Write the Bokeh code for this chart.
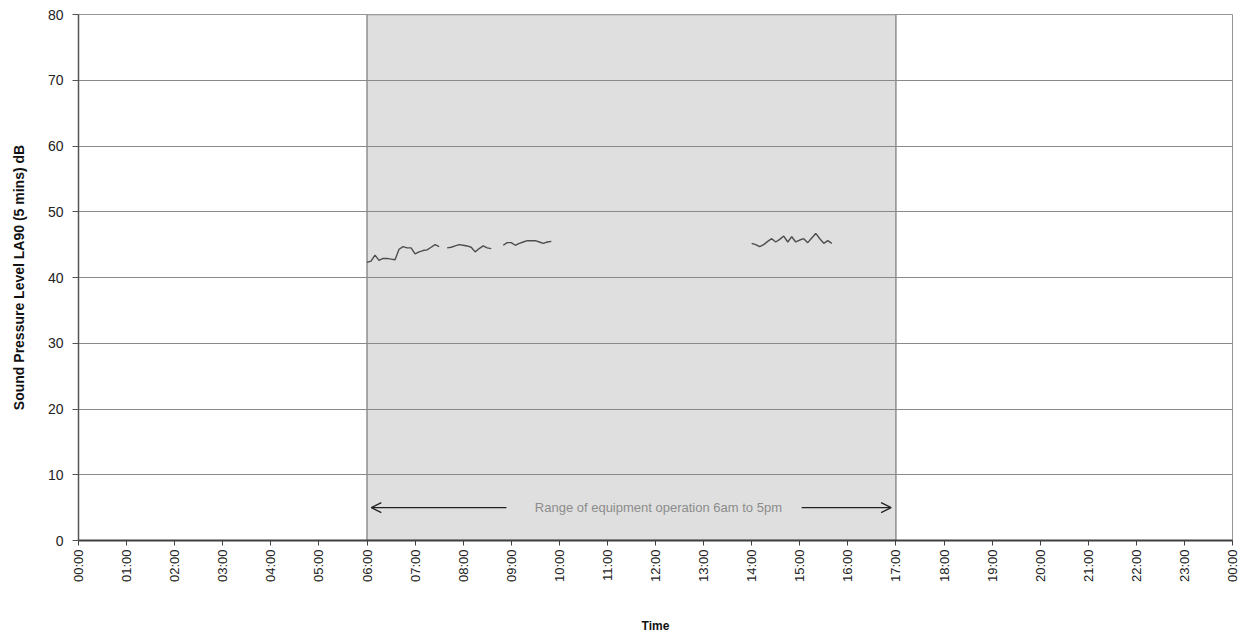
import numpy as np
from bokeh.plotting import figure
from bokeh.models import Range1d, FixedTicker, Arrow, OpenHead, Label
from bokeh.embed import file_html
from bokeh.resources import INLINE

# ---------------- data ----------------
hours = list(range(0, 25))
hour_labels = ["%02d:00" % (h % 24) for h in hours]
y_ticks = [0, 10, 20, 30, 40, 50, 60, 70, 80]

op_start = 6.0     # 6am
op_end = 17.0      # 5pm
op_text = "Range of equipment operation 6am to 5pm"
y_title = "Sound Pressure Level LA90 (5 mins) dB"
x_title = "Time"

# 5-minute LA90 readings, each segment given by start time (hours) and values
seg1_start = 6 + 0 / 60
seg1_vals = [42.3, 42.5, 43.4, 42.6, 42.9, 42.9, 42.8, 42.7, 44.3, 44.7,
             44.5, 44.5, 43.6, 43.9, 44.1, 44.2, 44.6, 45.0, 44.7]
seg2_start = 7 + 40 / 60
seg2_vals = [44.5, 44.6, 44.8, 45.0, 44.9, 44.8, 44.6, 43.9, 44.4, 44.8,
             44.5, 44.4]
seg3_start = 8 + 50 / 60
seg3_vals = [44.9, 45.3, 45.3, 44.9, 45.2, 45.4, 45.6, 45.6, 45.6, 45.4,
             45.2, 45.4, 45.5]
seg4_start = 14 + 0 / 60
seg4_vals = [45.2, 45.0, 44.7, 45.0, 45.5, 45.9, 45.4, 45.8, 46.3, 45.4,
             46.2, 45.4, 45.7, 45.9, 45.3, 46.0, 46.7, 45.9, 45.2, 45.6,
             45.2]
segments = [(seg1_start, seg1_vals), (seg2_start, seg2_vals),
            (seg3_start, seg3_vals), (seg4_start, seg4_vals)]

arrow_left = (8.90, 6.09)    # (line start, arrow tip)
arrow_right = (15.04, 16.90)
arrow_y = 5
text_x = 12.06

# ---------------- figure ----------------
W, H = 1240, 636
ML, MR, MT, MB = 78, 8, 14, 96
p = figure(width=W, height=H,
           x_range=Range1d(0, 24), y_range=Range1d(0, 80),
           output_backend="svg", toolbar_location=None,
           min_border_left=ML, min_border_right=MR,
           min_border_top=MT, min_border_bottom=MB)
p.background_fill_color = "white"
p.border_fill_color = "white"
p.outline_line_color = "#959595"
p.outline_line_width = 1

# operation shading (below grid)
p.quad(left=[op_start], right=[op_end], bottom=[y_ticks[0]], top=[y_ticks[-1]],
       fill_color="#dfdfdf", line_color="#8f8f8f", line_width=1.5,
       level="image")

# data lines
for start, vals in segments:
    xs = [start + i * 5 / 60 for i in range(len(vals))]
    p.line(xs, vals, line_color="#4d4d4d", line_width=1.4)

# grid
p.xgrid.visible = False
p.ygrid.grid_line_color = "#8a8a8a"
p.ygrid.grid_line_width = 1

# y axis
p.yaxis.ticker = FixedTicker(ticks=y_ticks)
p.yaxis.minor_tick_line_color = None
p.yaxis.major_tick_in = 0
p.yaxis.major_tick_out = 6
p.yaxis.major_label_standoff = 9
p.yaxis.major_label_text_font = "Liberation Sans"
p.yaxis.major_label_text_font_size = "14px"
p.yaxis.major_label_text_color = "#222222"
p.yaxis.axis_line_color = "#555555"
p.yaxis.axis_line_width = 1.5
p.yaxis.major_tick_line_color = "#555555"
p.yaxis.axis_label = y_title
p.yaxis.axis_label_text_font = "Liberation Sans"
p.yaxis.axis_label_text_font_style = "bold"
p.yaxis.axis_label_text_font_size = "14px"
p.yaxis.axis_label_text_color = "#111111"
p.yaxis.axis_label_standoff = 18

# x axis
p.xaxis.ticker = FixedTicker(ticks=hours)
p.xaxis.major_label_overrides = {h: lab for h, lab in zip(hours, hour_labels)}
p.xaxis.major_label_orientation = np.pi / 2
p.xaxis.minor_tick_line_color = None
p.xaxis.major_tick_in = 0
p.xaxis.major_tick_out = 5
p.xaxis.major_label_standoff = 4
p.xaxis.major_label_text_font = "Liberation Sans"
p.xaxis.major_label_text_font_size = "13px"
p.xaxis.major_label_text_color = "#222222"
p.xaxis.axis_line_color = "#404040"
p.xaxis.axis_line_width = 2
p.xaxis.major_tick_line_color = "#404040"
p.xaxis.axis_label = x_title
p.xaxis.axis_label_text_font = "Liberation Sans"
p.xaxis.axis_label_text_font_style = "bold"
p.xaxis.axis_label_text_font_size = "12px"
p.xaxis.axis_label_text_color = "#111111"
p.xaxis.axis_label_standoff = 34

# range arrows
for start, tip in (arrow_left, arrow_right):
    p.add_layout(Arrow(end=OpenHead(size=10, line_color="#222222", line_width=1.3),
                       x_start=start, y_start=arrow_y, x_end=tip, y_end=arrow_y,
                       line_color="#222222", line_width=1.3))

p.add_layout(Label(x=text_x, y=arrow_y, text=op_text, text_align="center",
                   text_baseline="middle", text_font="Liberation Sans",
                   text_font_size="13px", text_color="#8c8c8c"))

open("out.html", "w").write(file_html(p, INLINE))
